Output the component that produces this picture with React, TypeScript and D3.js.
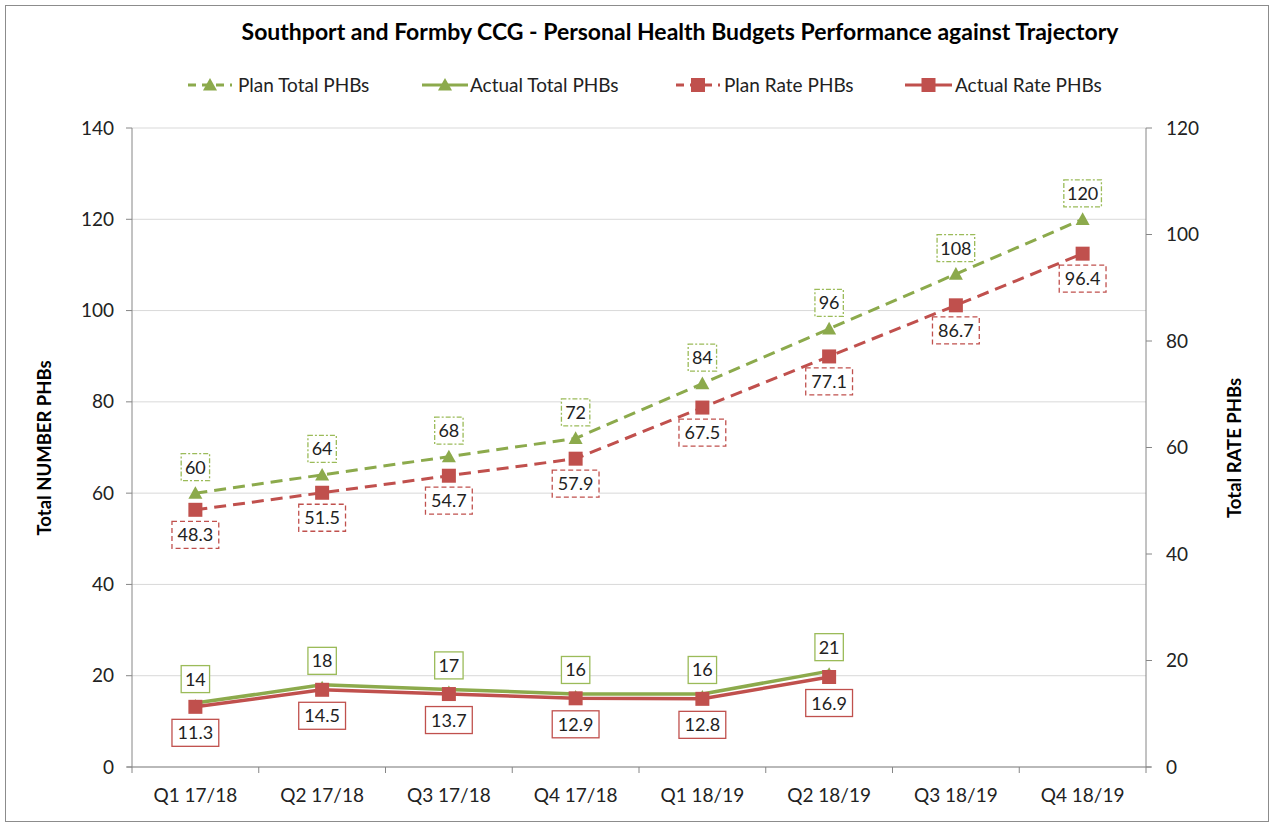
import React from "react";
import * as d3 from "d3";

const categories = ["Q1 17/18", "Q2 17/18", "Q3 17/18", "Q4 17/18", "Q1 18/19", "Q2 18/19", "Q3 18/19", "Q4 18/19"];
const planTotal = [60, 64, 68, 72, 84, 96, 108, 120];
const actualTotal = [14, 18, 17, 16, 16, 21];
const planRate = [48.3, 51.5, 54.7, 57.9, 67.5, 77.1, 86.7, 96.4];
const actualRate = [11.3, 14.5, 13.7, 12.9, 12.8, 16.9];
const leftTicks = [0, 20, 40, 60, 80, 100, 120, 140];
const rightTicks = [0, 20, 40, 60, 80, 100, 120];

const W = 1272, H = 825;
const L = 132, R = 1146, T = 128, B = 767;
const GREEN = "#8CAA4C";
const GREEN_LIGHT = "#9BBB59";
const RED = "#C0504D";
const FONT = "Lato, 'Open Sans', sans-serif";

export default function App() {
  const x = d3.scaleBand<string>().domain(categories).range([L, R]);
  const yL = d3.scaleLinear().domain([0, 140]).range([B, T]);
  const yR = d3.scaleLinear().domain([0, 120]).range([B, T]);
  const cx = (i: number) => (x(categories[i]) as number) + x.bandwidth() / 2;

  const lineL = d3.line<number>().x((_, i) => cx(i)).y((d) => yL(d));
  const lineR = d3.line<number>().x((_, i) => cx(i)).y((d) => yR(d));

  const tri = (px: number, py: number, s = 7) =>
    `M${px},${py - s} L${px + s},${py + s * 0.8} L${px - s},${py + s * 0.8} Z`;

  const labelBox = (
    key: string, px: number, py: number, text: string, stroke: string, dash: string | undefined
  ) => {
    const w = text.length * 9.2 + 10;
    const h = 27;
    return (
      <g key={key}>
        <rect x={px - w / 2} y={py - h / 2} width={w} height={h} fill="white" stroke={stroke} strokeWidth={1.3} strokeDasharray={dash} />
        <text x={px} y={py + 6.5} textAnchor="middle" fontSize={18} fill="#222">{text}</text>
      </g>
    );
  };

  const legendItems = [
    { x0: 188, x1: 232, tx: 238, label: "Plan Total PHBs", color: GREEN, dash: "8,6", marker: "tri" },
    { x0: 422, x1: 468, tx: 470, label: "Actual Total PHBs", color: GREEN, dash: undefined, marker: "tri" },
    { x0: 676, x1: 720, tx: 724, label: "Plan Rate PHBs", color: RED, dash: "8,6", marker: "sq" },
    { x0: 905, x1: 952, tx: 955, label: "Actual Rate PHBs", color: RED, dash: undefined, marker: "sq" },
  ];

  return (
    <svg width={W} height={H} style={{ display: "block", position: "absolute", left: 0, top: 0 }} fontFamily={FONT}>
      <rect x={0} y={0} width={W} height={H} fill="white" />
      <rect x={5.5} y={5.5} width={W - 9} height={H - 9} fill="none" stroke="#8c8c8c" strokeWidth={1} />
      <text x={680} y={40} textAnchor="middle" fontSize={23} fontWeight="bold" fill="#000">
        Southport and Formby CCG - Personal Health Budgets Performance against Trajectory
      </text>

      {legendItems.map((it) => {
        const mx = (it.x0 + it.x1) / 2;
        return (
          <g key={it.label}>
            <line x1={it.x0} x2={it.x1} y1={85} y2={85} stroke={it.color} strokeWidth={3} strokeDasharray={it.dash} />
            {it.marker === "tri" ? (
              <path d={tri(mx, 85)} fill={it.color} />
            ) : (
              <rect x={mx - 7} y={78} width={14} height={14} fill={it.color} />
            )}
            <text x={it.tx} y={92} fontSize={19} fill="#222">{it.label}</text>
          </g>
        );
      })}

      {leftTicks.map((t) => (
        <line key={"g" + t} x1={L} x2={R} y1={yL(t)} y2={yL(t)} stroke="#d9d9d9" strokeWidth={1} />
      ))}

      <line x1={L} x2={L} y1={T} y2={B} stroke="#868686" />
      <line x1={R} x2={R} y1={T} y2={B} stroke="#868686" />
      <line x1={L - 5} x2={R + 5} y1={B} y2={B} stroke="#868686" />
      {leftTicks.map((t) => (
        <g key={"l" + t}>
          <line x1={L - 6} x2={L} y1={yL(t)} y2={yL(t)} stroke="#868686" />
          <text x={114} y={yL(t) + 6.5} textAnchor="end" fontSize={19} fill="#222">{t}</text>
        </g>
      ))}
      {rightTicks.map((t) => (
        <g key={"r" + t}>
          <line x1={R} x2={R + 6} y1={yR(t)} y2={yR(t)} stroke="#868686" />
          <text x={1166} y={yR(t) + 6.5} textAnchor="start" fontSize={19} fill="#222">{t}</text>
        </g>
      ))}
      {d3.range(categories.length + 1).map((i) => {
        const xx = L + i * x.step();
        return <line key={"xt" + i} x1={xx} x2={xx} y1={B} y2={B + 6} stroke="#868686" />;
      })}
      {categories.map((c, i) => (
        <text key={c} x={cx(i)} y={802} textAnchor="middle" fontSize={19} fill="#222">{c}</text>
      ))}

      <text transform={`translate(51,${448}) rotate(-90)`} textAnchor="middle" fontSize={18.5} fontWeight="bold" fill="#000">Total NUMBER PHBs</text>
      <text transform={`translate(1241,${448}) rotate(-90)`} textAnchor="middle" fontSize={18.5} fontWeight="bold" fill="#000">Total RATE PHBs</text>

      <path d={lineL(planTotal) as string} fill="none" stroke={GREEN} strokeWidth={3} strokeDasharray="12,7" />
      <path d={lineR(planRate) as string} fill="none" stroke={RED} strokeWidth={3} strokeDasharray="12,7" />
      <path d={lineL(actualTotal) as string} fill="none" stroke={GREEN} strokeWidth={3.5} />
      <path d={lineR(actualRate) as string} fill="none" stroke={RED} strokeWidth={3.5} />

      {planTotal.map((v, i) => <path key={"pt" + i} d={tri(cx(i), yL(v))} fill={GREEN} />)}
      {actualTotal.map((v, i) => <path key={"at" + i} d={tri(cx(i), yL(v), 4)} fill={GREEN} />)}
      {planRate.map((v, i) => <rect key={"pr" + i} x={cx(i) - 7} y={yR(v) - 7} width={14} height={14} fill={RED} />)}
      {actualRate.map((v, i) => <rect key={"ar" + i} x={cx(i) - 7} y={yR(v) - 7} width={14} height={14} fill={RED} />)}

      {planTotal.map((v, i) => labelBox("lpt" + i, cx(i), yL(v) - 26, String(v), GREEN_LIGHT, "5,2,2,2"))}
      {planRate.map((v, i) => labelBox("lpr" + i, cx(i), yR(v) + 25, v.toFixed(1), RED, "5,3"))}
      {actualTotal.map((v, i) => labelBox("lat" + i, cx(i), yL(v) - 24, String(v), GREEN_LIGHT, undefined))}
      {actualRate.map((v, i) => labelBox("lar" + i, cx(i), yR(v) + 26, v.toFixed(1), RED, undefined))}
    </svg>
  );
}
